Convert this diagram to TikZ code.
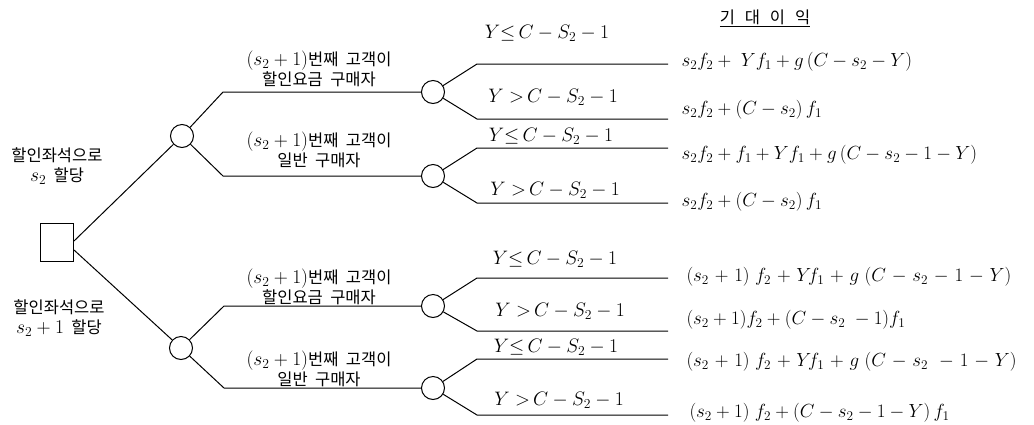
\RequirePackage{fix-cm}
\documentclass[tikz,border=0pt]{standalone}
\usepackage{fontspec}
\newfontfamily\kr{Noto Sans CJK KR}
\usetikzlibrary{calc}
\newcommand{\mth}[1]{{\fontsize{19.5}{19.5}\selectfont$#1$}}
\newcommand{\gap}{\hspace{0.45em}}
\begin{document}
\begin{tikzpicture}[x=1pt,y=-1pt,
  line width=1pt,
  chance/.style={circle,draw,minimum size=23pt,inner sep=0pt},
  decision/.style={rectangle,draw,minimum width=33pt,minimum height=38pt,inner sep=0pt},
  kor/.style={font=\kr\fontsize{16.5}{20.5}\selectfont,align=center,inner sep=0pt},
  cond/.style={font=\fontsize{19.5}{21}\selectfont,inner sep=0pt},
  payoff/.style={font=\fontsize{19}{21}\selectfont,anchor=west,inner sep=0pt},
  widepay/.style={payoff,execute at begin node={\medmuskip=5.5mu plus 2mu minus 4mu}},
]
\useasboundingbox (0,0) rectangle (1034,424);

% decision and chance nodes
\node[decision] (root) at (57,242) {};
\node[chance] (A) at (182,136) {};
\node[chance] (B) at (181,348) {};
\node[chance] (d1) at (433,92) {};
\node[chance] (d2) at (433,176) {};
\node[chance] (d3) at (433,306) {};
\node[chance] (d4) at (433,388) {};

% bends and ends
\coordinate (a1) at (223,92);
\coordinate (a2) at (223,176);
\coordinate (b1) at (224,306);
\coordinate (b2) at (224,388);
\foreach \n/\y in {1/64,2/119,3/148,4/203,5/278,6/331,7/359,8/415}{
  \coordinate (k\n) at (477,\y);
  \coordinate (e\n) at (668,\y);
}

% connectors
\draw ($(root.east)+(0,-1)$) -- (A);
\draw ($(root.east)+(0,8)$) -- (B);
\draw (A) -- (a1) -- (d1);
\draw (A) -- (a2) -- (d2);
\draw (B) -- (b1) -- (d3);
\draw (B) -- (b2) -- (d4);
\draw (d1) -- (k1) -- (e1);
\draw (d1) -- (k2) -- (e2);
\draw (d2) -- (k3) -- (e3);
\draw (d2) -- (k4) -- (e4);
\draw (d3) -- (k5) -- (e5);
\draw (d3) -- (k6) -- (e6);
\draw (d4) -- (k7) -- (e7);
\draw (d4) -- (k8) -- (e8);

% left labels
\node[kor] (L1) at (57,166) {할인좌석으로\\\mth{s_2}\gap 할당};
\node[kor] (L2) at (59,318) {할인좌석으로\\\mth{s_2+1}\gap 할당};

% first-stage labels
\node[kor] (m1) at (319,69) {\mth{(s_2+1)}번째\gap 고객이\\할인요금\gap 구매자};
\node[kor] (m2) at (319,150) {\mth{(s_2+1)}번째\gap 고객이\\일반\gap 구매자};
\node[kor] (m3) at (319,287) {\mth{(s_2+1)}번째\gap 고객이\\할인요금\gap 구매자};
\node[kor] (m4) at (319,369) {\mth{(s_2+1)}번째\gap 고객이\\일반\gap 구매자};

% conditions
\node[cond] (c1) at (547,33) {$Y{\leq}\,C-S_2-1$};
\node[cond] (c2) at (553,97) {$Y\;{>}\,C-S_2-1$};
\node[cond] (c3) at (551,136) {$Y{\leq}\,C-S_2-1$};
\node[cond] (c4) at (555,190) {$Y\;{>}\,C-S_2-1$};
\node[cond] (c5) at (555,259) {$Y{\leq}\,C-S_2-1$};
\node[cond] (c6) at (560,311) {$Y\;{>}\,C-S_2-1$};
\node[cond] (c7) at (556,347) {$Y{\leq}\,C-S_2-1$};
\node[cond] (c8) at (559,400) {$Y\;{>}\,C-S_2-1$};

% title
\node[kor] (T) at (765,18) {\underline{기\hspace{0.6em}대\hspace{0.6em}이\hspace{0.6em}익}};

% payoffs
\node[payoff] (p1) at (681,62) {$s_2f_2+\;Yf_1+g\,(C-s_2-Y)$};
\node[payoff] (p2) at (681,110) {$s_2f_2+(C-s_2)\,f_1$};
\node[payoff] (p3) at (681,155) {$s_2f_2+f_1+Yf_1+g\,(C-s_2-1-Y)$};
\node[payoff] (p4) at (681,202) {$s_2f_2+(C-s_2)\,f_1$};
\node[widepay] (p5) at (686,277) {$(s_2+1)\;f_2+Y\!f_1+g\;(C-s_2-1-Y)$};
\node[payoff] (p6) at (686,320) {$(s_2+1)f_2+(C-s_2\;-1)f_1$};
\node[widepay] (p7) at (686,362) {$(s_2+1)\;f_2+Y\!f_1+g\;(C-s_2\;-1-Y)$};
\node[payoff] (p8) at (689,413) {$(s_2+1)\;f_2+(C-s_2-1-Y)\,f_1$};
\end{tikzpicture}
\end{document}
